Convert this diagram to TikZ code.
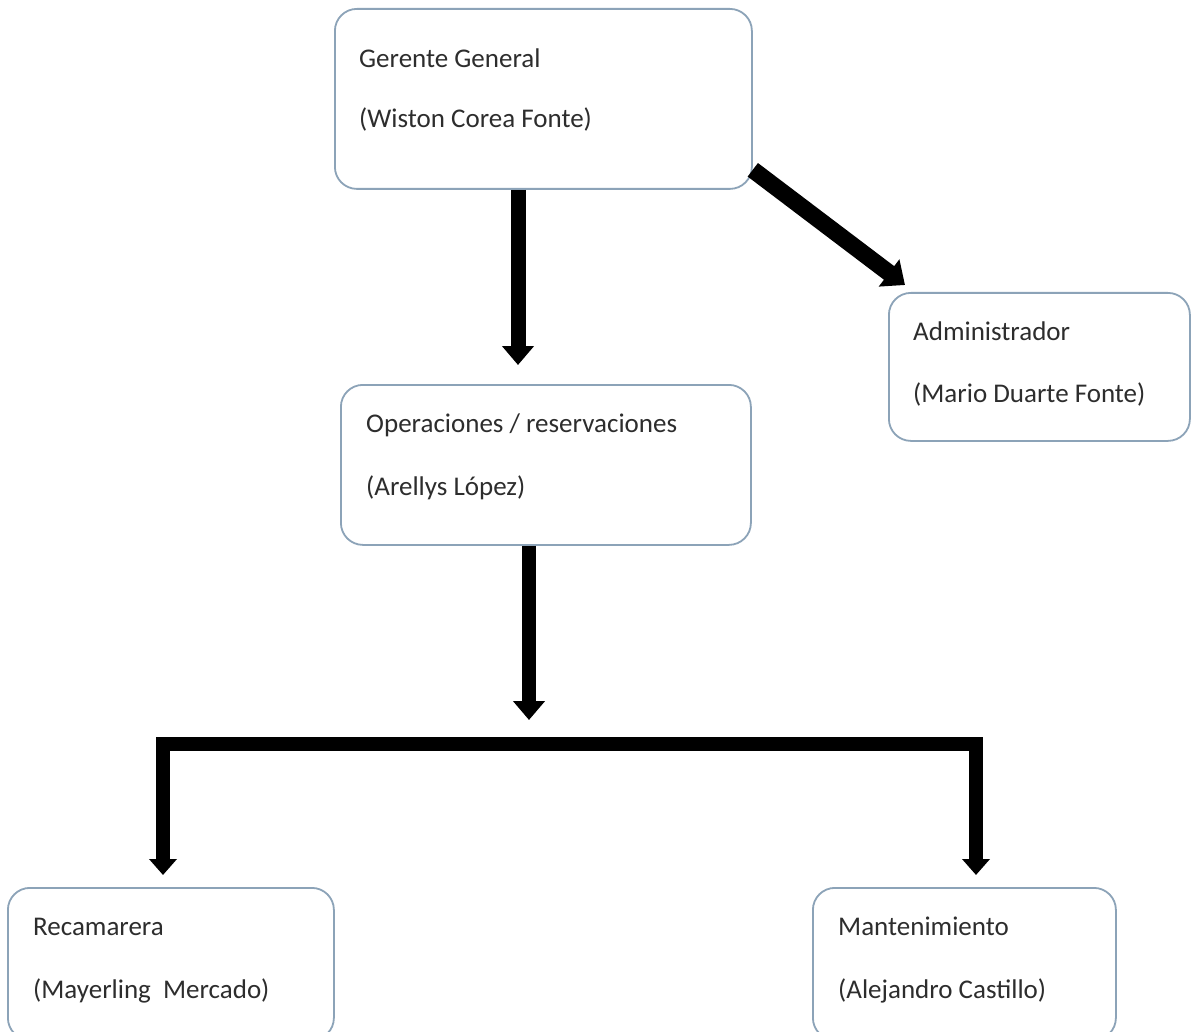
\documentclass[tikz,border=0pt]{standalone}
\usepackage{fontspec}
\setmainfont{Carlito}
\usetikzlibrary{arrows.meta,calc}
\definecolor{boxc}{RGB}{140,163,184}
\definecolor{textc}{RGB}{45,45,45}
\begin{document}
\begin{tikzpicture}[x=1pt,y=-1pt,
  box/.style={draw=boxc, line width=1.8pt, rounded corners=22pt, fill=white, inner sep=0pt, anchor=north west},
  txt/.style={font=\fontsize{27}{32}\selectfont, text=textc, inner sep=0pt, anchor=base west},
  conn/.style={draw=black, line width=15pt, line join=miter, -{Triangle[width=31pt,length=19pt]}},
  bconn/.style={draw=black, line width=14pt, line join=miter, {Triangle[width=27pt,length=16pt]}-{Triangle[width=27pt,length=16pt]}}
]
\path[use as bounding box, clip] (0,0) rectangle (1191,1032);
\fill[white] (0,0) rectangle (1191,1032);

% boxes
\node[box, minimum width=417pt, minimum height=180pt] (g) at (334,8) {};
\node[box, minimum width=301pt, minimum height=148pt] (a) at (888,292) {};
\node[box, minimum width=410pt, minimum height=160pt] (o) at (340,384) {};
\node[box, minimum width=326pt, minimum height=152pt] (r) at (7,887) {};
\node[box, minimum width=303pt, minimum height=152pt] (m) at (812,887) {};

% texts
\node[txt] (g1) at (359,68) {Gerente General};
\node[txt] (g2) at (359,128) {(Wiston Corea Fonte)};
\node[txt] (a1) at (913,340) {Administrador};
\node[txt] (a2) at (913,402) {(Mario Duarte Fonte)};
\node[txt] (o1) at (366,432) {Operaciones / reservaciones};
\node[txt] (o2) at (366,495) {(Arellys López)};
\node[txt] (r1) at (33,935) {Recamarera};
\node[txt] (r2) at (33,998) {(Mayerling\ \ Mercado)};
\node[txt] (m1) at (838,935) {Mantenimiento};
\node[txt] (m2) at (838,998) {(Alejandro Castillo)};

% connector coordinates
\coordinate (x1) at (518,0);
\coordinate (x2) at (529,0);
\coordinate (bl) at (163,744);
\coordinate (br) at (976,744);

% connectors
\draw[conn, shorten >=19pt] (g.south -| x1) -- (o.north -| x1);
\draw[conn, line width=14pt, shorten >=24pt] (o.south -| x2) -- (x2 |- bl);
\draw[conn, line width=17pt, -{Triangle[width=33pt,length=20pt]}] ([yshift=20pt]g.south east) -- ([xshift=17pt,yshift=7pt]a.north west);
\draw[bconn, shorten <=12pt, shorten >=12pt] (r.north -| bl) -- (bl) -- (br) -- (m.north -| br);
\end{tikzpicture}
\end{document}
